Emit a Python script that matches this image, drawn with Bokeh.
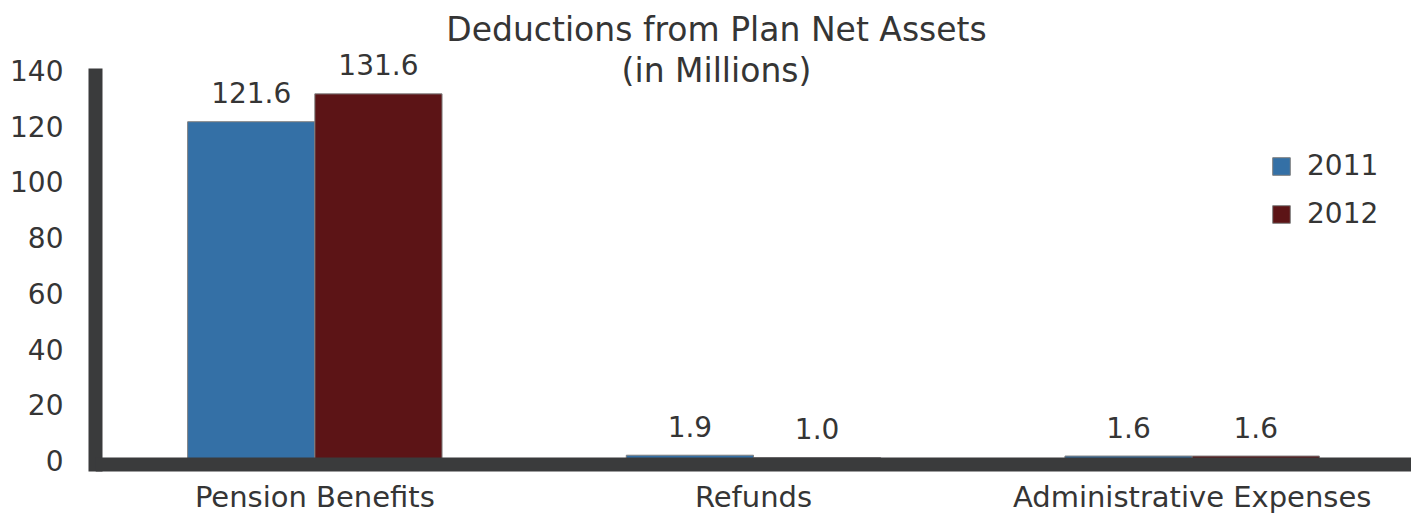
from bokeh.plotting import figure
from bokeh.models import (ColumnDataSource, Label, Legend, LegendItem,
                          FixedTicker, FactorRange, Range1d, Span)
from bokeh.transform import dodge
from bokeh.core.properties import value
from bokeh.embed import file_html
from bokeh.resources import INLINE

# Deductions from plan net assets, in millions of dollars
categories = ["Pension Benefits", "Refunds", "Administrative Expenses"]
years = ["2011", "2012"]
values_2011 = [121.6, 1.9, 1.6]
values_2012 = [131.6, 1.0, 1.6]
y_ticks = [0, 20, 40, 60, 80, 100, 120, 140]

FONT = "DejaVu Sans"
TEXT = "#353535"
AXIS = "#3a3b3c"
BLUE = "#3470a6"
RED = "#5c1416"
EDGE = "#808080"

PX = 2.786  # pixels per million on the value axis

source = ColumnDataSource(dict(
    cat=categories,
    v2011=values_2011,
    v2012=values_2012,
    l2011=[f"{v:.1f}" for v in values_2011],
    l2012=[f"{v:.1f}" for v in values_2012],
))

# The frame fills the canvas vertically; the category baseline and its
# labels are drawn inside it so nothing is clipped.
p = figure(
    width=1411, height=513,
    x_range=FactorRange(*categories, range_padding=0),
    y_range=Range1d(-53 / PX, 460 / PX),
    x_axis_location=None,
    output_backend="svg", toolbar_location=None,
    min_border_left=95, min_border_right=0,
    min_border_top=0, min_border_bottom=0,
)
p.background_fill_color = "white"
p.border_fill_color = "white"
p.outline_line_color = None
p.xgrid.grid_line_color = None
p.ygrid.grid_line_color = None

# Value axis: heavy dark rule from below the baseline up to 140
yax = p.yaxis[0]
yax.axis_line_width = 14
yax.axis_line_color = AXIS
yax.major_tick_line_color = None
yax.minor_tick_line_color = None
yax.major_label_text_font = FONT
yax.major_label_text_color = TEXT
yax.major_label_text_font_size = "28px"
yax.ticker = FixedTicker(ticks=y_ticks)
yax.bounds = (-11 / PX, 140.7)
yax.major_label_standoff = 26

half = 0.145
bar_w = 0.29
r2011 = p.vbar(x=dodge("cat", -half, range=p.x_range), top="v2011", bottom=0,
               width=bar_w, fill_color=BLUE, line_color=EDGE, line_width=1,
               source=source)
r2012 = p.vbar(x=dodge("cat", half, range=p.x_range), top="v2012", bottom=0,
               width=bar_w, fill_color=RED, line_color=EDGE, line_width=1,
               source=source)

# Category baseline
p.add_layout(Span(location=-4 / PX, dimension="width",
                  line_color=AXIS, line_width=14))

# Category labels under the baseline
p.text(x="cat", y=-36 / PX, text="cat", text_align="center",
       text_baseline="alphabetic", text_font=value(FONT),
       text_font_size=value("29px"), text_color=TEXT, source=source)

# Value labels above each bar
for off, col in ((-half, "2011"), (half, "2012")):
    p.text(x=dodge("cat", off, range=p.x_range), y="v" + col, text="l" + col,
           text_align="center", text_baseline="alphabetic", y_offset=-29,
           text_font=value(FONT), text_font_size=value("28px"),
           text_color=TEXT, source=source)

# Two-line title centred over the chart
for txt, yy in (("Deductions from Plan Net Assets", 484),
                ("(in Millions)", 443)):
    p.add_layout(Label(x=621, y=yy, x_units="screen", y_units="screen",
                       text=txt, text_align="center",
                       text_baseline="alphabetic", text_font=FONT,
                       text_font_size="33px", text_color=TEXT))

legend = Legend(
    items=[LegendItem(label=years[0], renderers=[r2011]),
           LegendItem(label=years[1], renderers=[r2012])],
    location=(1175, 283),
    glyph_width=22, glyph_height=22,
    label_text_font=FONT, label_text_font_size="28px", label_text_color=TEXT,
    label_standoff=15, spacing=15, padding=0, margin=0,
    border_line_color=None, background_fill_alpha=0,
)
p.add_layout(legend)

open("out.html", "w").write(file_html(p, INLINE))
